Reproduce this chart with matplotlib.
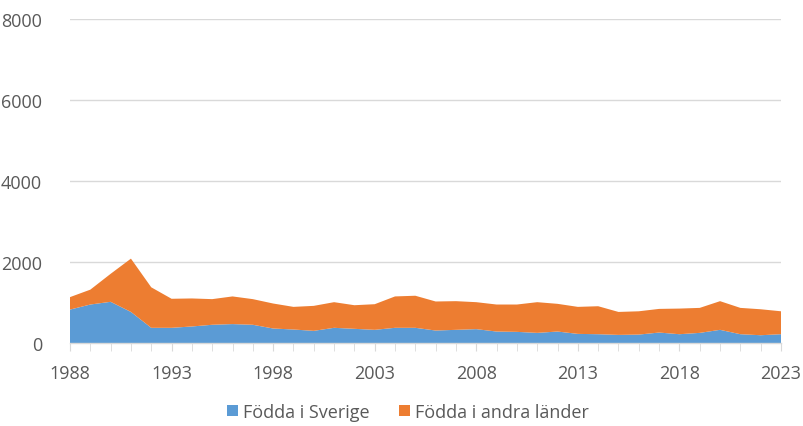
import matplotlib
matplotlib.use("Agg")
import matplotlib.pyplot as plt
import numpy as np

years = list(range(1988, 2024))
total = [1133, 1317, 1708, 2083, 1375, 1092, 1100, 1083, 1150, 1083, 975, 892,
         917, 1008, 933, 958, 1150, 1167, 1025, 1033, 1008, 950, 950, 1008,
         967, 892, 908, 767, 783, 842, 850, 867, 1033, 867, 833, 783]
sverige = [825, 950, 1017, 767, 375, 375, 408, 450, 467, 450, 358, 333,
           300, 375, 350, 325, 375, 375, 308, 325, 342, 283, 275, 250,
           283, 225, 217, 200, 208, 258, 217, 250, 325, 217, 192, 217]
andra = [t - s for t, s in zip(total, sverige)]
labels = ["Födda i Sverige", "Födda i andra länder"]
colors = ["#5B9BD5", "#ED7D31"]

plt.rcParams['font.family'] = ['Open Sans', 'DejaVu Sans']
fig = plt.figure(figsize=(8.04, 4.27), dpi=100)
ax = fig.add_axes([70/804, 1-344/427, (781-70)/804, (344-20)/427])

ax.stackplot(years, sverige, andra, labels=labels, colors=colors, linewidth=0)

ax.set_xlim(1988, 2023)
ax.set_ylim(0, 8000)
ax.set_yticks([0, 2000, 4000, 6000, 8000])
ax.set_xticks(list(range(1988, 2024, 5)))
ax.set_xticks(years, minor=True)
ax.grid(axis='y', color='#d9d9d9', linewidth=1)
ax.set_axisbelow(True)
for s in ['top', 'right', 'left']:
    ax.spines[s].set_visible(False)
ax.spines['bottom'].set_color('#d9d9d9')
ax.spines['bottom'].set_linewidth(1)
ax.tick_params(axis='y', length=0, pad=20, labelsize=13, labelcolor='#595959')
ax.tick_params(axis='x', which='both', length=6, color='#d9d9d9', labelsize=13,
               labelcolor='#595959', pad=9)

handles, lbls = ax.get_legend_handles_labels()
fig.legend(handles, lbls, loc='center', bbox_to_anchor=(0.5 + 6/804, 1 - 413/427), ncol=2,
           frameon=False, fontsize=13, labelcolor='#595959', handlelength=0.6,
           handleheight=0.6, columnspacing=1.6, handletextpad=0.3,
           borderpad=0.1)

fig.savefig("out.png", dpi=100)
